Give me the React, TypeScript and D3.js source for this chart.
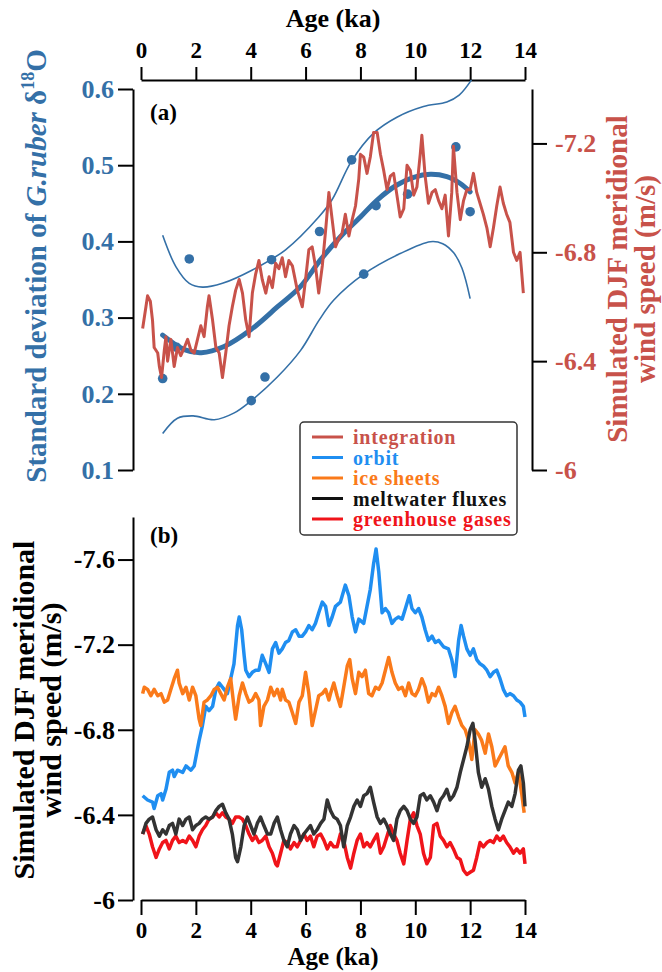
import { useEffect, useRef } from 'react';
import * as d3 from 'd3';

// Tick values
const ageTicks = [0, 2, 4, 6, 8, 10, 12, 14];
const stdTicks = [0.1, 0.2, 0.3, 0.4, 0.5, 0.6];
const windTicksA = [-6, -6.4, -6.8, -7.2];
const windTicksB = [-6, -6.4, -6.8, -7.2, -7.6];

// Panel (a): G.ruber std points [age, std]
const stdPoints: [number, number][] = [
  [0.79, 0.22], [1.3, 0.261], [1.76, 0.377], [4.02, 0.191], [4.52, 0.222], [4.76, 0.376],
  [6.51, 0.413], [7.68, 0.507], [8.12, 0.357], [8.57, 0.447], [9.72, 0.462], [11.48, 0.524], [12.0, 0.439],
];
// fitted curve and confidence bounds
const stdFit: [number, number][] = [
  [0.79, 0.277], [1.58, 0.258], [2.2, 0.254], [3.03, 0.262], [4.0, 0.284], [4.97, 0.314], [5.82, 0.341],
  [6.55, 0.376], [7.27, 0.406], [8.0, 0.432], [8.6, 0.454], [9.33, 0.474], [9.94, 0.484], [10.55, 0.488],
  [11.15, 0.485], [11.64, 0.476], [12.0, 0.465],
];
const stdUpper: [number, number][] = [
  [0.79, 0.408], [1.27, 0.367], [1.76, 0.345], [2.24, 0.34], [2.97, 0.345], [4.06, 0.3625], [5.27, 0.389],
  [6.48, 0.432], [6.97, 0.455], [7.67, 0.505], [8.48, 0.542], [9.33, 0.563], [10.3, 0.577], [11.15, 0.583],
  [11.6, 0.592], [12.05, 0.612],
];
const stdLower: [number, number][] = [
  [0.79, 0.148], [1.33, 0.168], [1.9, 0.171], [2.67, 0.166], [3.4, 0.175], [4.02, 0.191], [4.97, 0.222],
  [5.82, 0.257], [6.5, 0.297], [7.03, 0.323], [8.12, 0.357], [9.45, 0.384], [10.55, 0.3996], [11.0, 0.397],
  [11.4, 0.385], [11.7, 0.365], [12.0, 0.325],
];

// Panel (a): simulated integration wind speed [age, m/s]
const integration: [number, number][] = [
  [0.06, -6.52], [0.18, -6.6], [0.24, -6.64], [0.34, -6.62], [0.42, -6.55], [0.48, -6.45], [0.61, -6.43],
  [0.67, -6.38], [0.75, -6.34], [0.85, -6.44], [0.91, -6.49], [0.97, -6.4], [1.09, -6.48], [1.21, -6.38],
  [1.33, -6.45], [1.45, -6.42], [1.58, -6.45], [1.7, -6.48], [1.82, -6.44], [1.94, -6.43], [2.06, -6.48],
  [2.18, -6.53], [2.3, -6.49], [2.42, -6.6], [2.48, -6.64], [2.61, -6.55], [2.73, -6.45], [2.85, -6.43],
  [2.97, -6.34], [3.09, -6.43], [3.21, -6.53], [3.33, -6.6], [3.45, -6.66], [3.58, -6.7], [3.7, -6.65],
  [3.82, -6.55], [3.94, -6.49], [4.06, -6.65], [4.18, -6.72], [4.3, -6.77], [4.42, -6.7], [4.55, -6.65],
  [4.67, -6.71], [4.79, -6.67], [4.91, -6.76], [5.03, -6.74], [5.15, -6.78], [5.27, -6.71], [5.39, -6.77],
  [5.52, -6.75], [5.7, -6.66], [5.88, -6.6], [6.0, -6.7], [6.12, -6.81], [6.24, -6.82], [6.36, -6.75],
  [6.48, -6.65], [6.61, -6.75], [6.73, -6.88], [6.85, -7.02], [6.97, -6.92], [7.09, -6.82], [7.21, -6.85],
  [7.33, -6.87], [7.45, -6.94], [7.58, -6.86], [7.7, -6.92], [7.82, -6.97], [7.94, -7.07], [8.0, -7.16],
  [8.12, -7.15], [8.24, -7.09], [8.36, -7.15], [8.48, -7.24], [8.61, -7.24], [8.73, -7.16], [8.85, -7.1],
  [8.97, -7.03], [9.09, -7.08], [9.21, -7.09], [9.33, -7.01], [9.45, -6.93], [9.58, -6.96], [9.7, -7.12],
  [9.82, -7.1], [9.94, -7.01], [10.06, -7.04], [10.18, -7.16], [10.24, -7.23], [10.36, -7.08], [10.48, -6.98],
  [10.61, -7.02], [10.73, -7.03], [10.85, -6.99], [10.97, -6.96], [11.09, -7.01], [11.21, -6.86], [11.33, -7.02],
  [11.39, -7.19], [11.52, -7.02], [11.64, -6.92], [11.76, -6.99], [11.88, -7.03], [12.0, -7.03], [12.12, -7.09],
  [12.24, -7.02], [12.36, -6.98], [12.48, -6.94], [12.61, -6.89], [12.73, -6.82], [12.85, -6.89], [12.97, -6.97],
  [13.09, -7.04], [13.21, -6.98], [13.33, -6.94], [13.45, -6.91], [13.58, -6.8], [13.7, -6.77], [13.82, -6.8],
  [13.94, -6.65],
];

// Panel (b): single forcing experiments [age, m/s]
const orbit: [number, number][] = [
  [0.06, -6.49], [0.24, -6.47], [0.42, -6.46], [0.48, -6.43], [0.61, -6.49], [0.73, -6.5], [0.79, -6.47],
  [0.91, -6.52], [1.03, -6.6], [1.15, -6.61], [1.21, -6.58], [1.33, -6.61], [1.52, -6.6], [1.64, -6.63],
  [1.82, -6.61], [1.94, -6.63], [2.06, -6.71], [2.12, -6.75], [2.24, -6.82], [2.36, -6.91], [2.48, -6.89],
  [2.61, -6.91], [2.73, -6.99], [2.85, -7.02], [3.03, -6.99], [3.15, -6.97], [3.27, -7.04], [3.39, -7.11],
  [3.52, -7.29], [3.58, -7.33], [3.67, -7.27], [3.76, -7.15], [3.82, -7.08], [3.94, -7.05], [4.06, -7.07],
  [4.18, -7.08], [4.3, -7.08], [4.42, -7.15], [4.55, -7.11], [4.67, -7.07], [4.79, -7.18], [4.91, -7.21],
  [5.03, -7.16], [5.15, -7.18], [5.27, -7.21], [5.39, -7.22], [5.52, -7.26], [5.64, -7.27], [5.76, -7.24],
  [5.88, -7.24], [6.0, -7.26], [6.12, -7.29], [6.24, -7.27], [6.36, -7.3], [6.48, -7.35], [6.61, -7.4],
  [6.73, -7.38], [6.85, -7.29], [6.97, -7.33], [7.09, -7.38], [7.27, -7.4], [7.45, -7.48], [7.58, -7.43],
  [7.7, -7.33], [7.82, -7.26], [7.94, -7.32], [8.12, -7.3], [8.24, -7.38], [8.36, -7.46], [8.48, -7.58],
  [8.57, -7.65], [8.67, -7.54], [8.79, -7.35], [8.91, -7.37], [9.03, -7.35], [9.15, -7.3], [9.27, -7.32],
  [9.39, -7.33], [9.52, -7.32], [9.64, -7.37], [9.78, -7.43], [9.88, -7.37], [10.0, -7.35], [10.12, -7.37],
  [10.24, -7.33], [10.36, -7.27], [10.48, -7.22], [10.61, -7.24], [10.73, -7.21], [10.85, -7.22], [11.03, -7.19],
  [11.21, -7.18], [11.33, -7.13], [11.45, -7.05], [11.58, -7.22], [11.67, -7.29], [11.76, -7.24], [11.88, -7.18],
  [12.0, -7.15], [12.12, -7.18], [12.24, -7.13], [12.36, -7.11], [12.48, -7.1], [12.61, -7.08], [12.73, -7.05],
  [12.85, -7.07], [12.97, -7.08], [13.09, -7.04], [13.21, -6.99], [13.33, -6.96], [13.45, -6.97], [13.58, -6.96],
  [13.7, -6.94], [13.82, -6.93], [13.94, -6.91], [14.0, -6.86],
];
const iceSheets: [number, number][] = [
  [0.06, -6.97], [0.12, -7.0], [0.24, -6.99], [0.36, -6.96], [0.48, -6.99], [0.61, -6.96], [0.73, -6.97],
  [0.85, -6.93], [0.97, -6.94], [1.09, -6.99], [1.21, -7.04], [1.33, -7.08], [1.39, -7.02], [1.52, -6.97],
  [1.64, -7.0], [1.76, -6.94], [1.88, -7.0], [2.0, -6.96], [2.12, -6.85], [2.18, -6.82], [2.3, -6.93],
  [2.42, -6.94], [2.55, -6.96], [2.67, -6.99], [2.79, -7.0], [2.91, -6.97], [3.03, -6.94], [3.15, -7.0],
  [3.27, -7.04], [3.39, -6.91], [3.45, -6.85], [3.58, -6.96], [3.7, -7.02], [3.82, -6.97], [3.94, -6.93],
  [4.06, -6.94], [4.18, -6.97], [4.3, -6.94], [4.36, -6.82], [4.48, -6.91], [4.61, -6.94], [4.73, -7.0],
  [4.85, -6.96], [4.97, -6.99], [5.09, -6.94], [5.15, -6.99], [5.27, -6.94], [5.39, -6.93], [5.52, -6.88],
  [5.64, -6.83], [5.76, -6.93], [5.88, -6.96], [6.0, -7.07], [6.12, -6.97], [6.24, -6.82], [6.36, -6.89],
  [6.48, -6.96], [6.61, -6.97], [6.73, -6.99], [6.85, -6.94], [6.91, -6.97], [7.03, -7.02], [7.15, -6.96],
  [7.27, -6.91], [7.39, -7.0], [7.52, -7.1], [7.61, -7.13], [7.7, -7.04], [7.82, -6.97], [7.94, -7.07],
  [8.06, -7.05], [8.18, -7.08], [8.3, -6.97], [8.42, -6.96], [8.55, -7.0], [8.67, -6.99], [8.79, -7.02],
  [8.91, -7.08], [9.03, -7.14], [9.15, -7.07], [9.27, -7.02], [9.39, -6.99], [9.52, -7.0], [9.64, -6.96],
  [9.76, -7.02], [9.88, -6.97], [10.0, -6.96], [10.12, -6.99], [10.24, -7.04], [10.36, -7.0], [10.48, -6.93],
  [10.61, -6.97], [10.73, -6.96], [10.85, -7.0], [10.97, -6.96], [11.09, -6.91], [11.21, -6.83], [11.33, -6.88],
  [11.45, -6.91], [11.58, -6.86], [11.7, -6.82], [11.82, -6.8], [11.94, -6.75], [12.06, -6.66], [12.18, -6.8],
  [12.3, -6.78], [12.42, -6.75], [12.55, -6.69], [12.67, -6.78], [12.79, -6.72], [12.91, -6.63], [13.03, -6.66],
  [13.15, -6.69], [13.27, -6.72], [13.39, -6.63], [13.52, -6.6], [13.64, -6.55], [13.76, -6.6], [13.88, -6.5],
  [13.97, -6.41],
];
const meltwater: [number, number][] = [
  [0.06, -6.31], [0.18, -6.36], [0.3, -6.38], [0.42, -6.39], [0.55, -6.33], [0.67, -6.3], [0.79, -6.33],
  [0.91, -6.31], [1.03, -6.35], [1.15, -6.36], [1.27, -6.31], [1.39, -6.38], [1.52, -6.35], [1.64, -6.38],
  [1.76, -6.39], [1.88, -6.33], [2.0, -6.35], [2.12, -6.36], [2.24, -6.38], [2.36, -6.39], [2.48, -6.38],
  [2.61, -6.39], [2.73, -6.42], [2.85, -6.44], [2.97, -6.45], [3.09, -6.41], [3.21, -6.38], [3.33, -6.31],
  [3.45, -6.2], [3.52, -6.18], [3.64, -6.25], [3.76, -6.35], [3.88, -6.39], [4.0, -6.35], [4.12, -6.31],
  [4.24, -6.36], [4.36, -6.39], [4.48, -6.35], [4.61, -6.31], [4.73, -6.31], [4.85, -6.36], [4.97, -6.39],
  [5.09, -6.33], [5.21, -6.28], [5.33, -6.25], [5.45, -6.31], [5.58, -6.35], [5.7, -6.33], [5.82, -6.28],
  [5.94, -6.31], [6.06, -6.33], [6.18, -6.35], [6.3, -6.31], [6.42, -6.33], [6.55, -6.36], [6.67, -6.38],
  [6.79, -6.47], [6.91, -6.42], [7.03, -6.39], [7.15, -6.38], [7.27, -6.35], [7.39, -6.25], [7.52, -6.35],
  [7.64, -6.39], [7.76, -6.44], [7.88, -6.47], [8.0, -6.44], [8.12, -6.49], [8.24, -6.5], [8.36, -6.53],
  [8.48, -6.46], [8.61, -6.39], [8.73, -6.36], [8.85, -6.38], [8.97, -6.35], [9.09, -6.31], [9.21, -6.28],
  [9.33, -6.38], [9.45, -6.42], [9.58, -6.44], [9.7, -6.42], [9.82, -6.38], [9.94, -6.36], [10.06, -6.39],
  [10.18, -6.49], [10.3, -6.5], [10.42, -6.47], [10.55, -6.49], [10.67, -6.46], [10.79, -6.42], [10.91, -6.47],
  [11.03, -6.49], [11.15, -6.52], [11.27, -6.47], [11.39, -6.49], [11.52, -6.53], [11.64, -6.6], [11.76, -6.66],
  [11.88, -6.72], [12.0, -6.8], [12.1, -6.83], [12.18, -6.75], [12.3, -6.6], [12.42, -6.53], [12.55, -6.57],
  [12.67, -6.52], [12.79, -6.44], [12.91, -6.38], [13.03, -6.33], [13.15, -6.38], [13.27, -6.42], [13.39, -6.46],
  [13.52, -6.44], [13.64, -6.5], [13.76, -6.61], [13.85, -6.63], [13.94, -6.55], [14.0, -6.44],
];
const greenhouse: [number, number][] = [
  [0.06, -6.31], [0.18, -6.35], [0.3, -6.31], [0.42, -6.25], [0.55, -6.2], [0.67, -6.24], [0.79, -6.27],
  [0.91, -6.28], [1.03, -6.24], [1.15, -6.28], [1.27, -6.3], [1.39, -6.27], [1.52, -6.28], [1.64, -6.27],
  [1.76, -6.3], [1.88, -6.28], [2.0, -6.25], [2.12, -6.3], [2.24, -6.33], [2.36, -6.35], [2.48, -6.38],
  [2.61, -6.39], [2.73, -6.41], [2.85, -6.39], [2.97, -6.41], [3.09, -6.39], [3.21, -6.38], [3.33, -6.36],
  [3.45, -6.39], [3.58, -6.39], [3.7, -6.38], [3.82, -6.35], [3.94, -6.31], [4.06, -6.28], [4.18, -6.3],
  [4.3, -6.27], [4.42, -6.28], [4.55, -6.3], [4.67, -6.25], [4.79, -6.22], [4.91, -6.17], [4.97, -6.16],
  [5.09, -6.22], [5.21, -6.28], [5.33, -6.27], [5.45, -6.24], [5.58, -6.27], [5.7, -6.25], [5.82, -6.28],
  [5.94, -6.31], [6.06, -6.28], [6.18, -6.3], [6.3, -6.25], [6.42, -6.3], [6.55, -6.31], [6.67, -6.28],
  [6.79, -6.24], [6.91, -6.27], [7.03, -6.25], [7.15, -6.25], [7.27, -6.31], [7.39, -6.28], [7.52, -6.2],
  [7.64, -6.15], [7.76, -6.22], [7.88, -6.28], [8.0, -6.31], [8.12, -6.25], [8.24, -6.27], [8.36, -6.25],
  [8.48, -6.28], [8.61, -6.31], [8.73, -6.22], [8.85, -6.25], [8.97, -6.3], [9.09, -6.35], [9.21, -6.31],
  [9.33, -6.28], [9.45, -6.22], [9.58, -6.17], [9.7, -6.28], [9.82, -6.38], [9.94, -6.41], [10.06, -6.35],
  [10.18, -6.31], [10.3, -6.22], [10.42, -6.17], [10.55, -6.2], [10.67, -6.35], [10.79, -6.36], [10.91, -6.3],
  [11.03, -6.28], [11.15, -6.25], [11.27, -6.27], [11.39, -6.24], [11.52, -6.2], [11.64, -6.19], [11.76, -6.14],
  [11.88, -6.12], [12.0, -6.13], [12.12, -6.14], [12.24, -6.2], [12.36, -6.27], [12.48, -6.25], [12.61, -6.27],
  [12.73, -6.28], [12.85, -6.27], [12.97, -6.3], [13.09, -6.28], [13.21, -6.3], [13.33, -6.27], [13.45, -6.25],
  [13.58, -6.22], [13.7, -6.24], [13.82, -6.22], [13.94, -6.24], [14.0, -6.17],
];

const legendNames = ['integration', 'orbit', 'ice sheets', 'meltwater fluxes', 'greenhouse gases'];
const legendLineColors = ['#c8524a', '#1f8ef1', '#fa7a1a', '#111111', '#f0141a'];
const legendTextColors = ['#c8524a', '#1f8ef1', '#fa7a1a', '#111111', '#f0141a'];

const FONT = '"Liberation Serif", "Times New Roman", serif';
const BLUE = '#3470a7';
const RED = '#c8524a';

export default function App() {
  const ref = useRef<SVGSVGElement>(null);

  useEffect(() => {
    if (!ref.current) return;
    document.body.style.margin = '0';
    const svg = d3.select(ref.current);
    svg.selectAll('*').remove();

    const x = d3.scaleLinear().domain([0, 14]).range([141, 525]);
    const yStd = d3.scaleLinear().domain([0.1, 0.6]).range([470, 89]);
    const yWindA = d3.scaleLinear().domain([-6, -7.4]).range([470, 89]);
    const yWindB = d3.scaleLinear().domain([-6, -7.8]).range([900, 517]);

    // axis helper: major ticks with labels + minor ticks
    const addAxis = (
      axisFn: any, scale: any, tx: number, ty: number, major: number[], minor: number[],
      majorLen: number, minorLen: number, pad: number, color: string, size: number,
    ) => {
      const g = svg.append('g').attr('transform', `translate(${tx},${ty})`);
      g.call(axisFn(scale).tickValues(minor).tickSize(minorLen).tickSizeOuter(0).tickFormat(() => ''));
      g.call(
        axisFn(scale).tickValues(major).tickSize(majorLen).tickSizeOuter(0).tickPadding(pad)
          .tickFormat((d: number) => String(d)),
      );
      g.attr('font-family', FONT).attr('font-size', size).attr('font-weight', 'bold');
      g.selectAll('.domain').attr('stroke', '#000').attr('stroke-width', 2);
      g.selectAll('.tick line').attr('stroke', '#000').attr('stroke-width', 2);
      g.selectAll('.tick text').attr('fill', color);
    };

    const ageMinor = d3.range(0, 14.001, 0.5);
    addAxis(d3.axisTop, x, 0, 80, ageTicks, ageMinor, 13, 7, 9, '#000', 23);
    addAxis(d3.axisLeft, yStd, 133, 0, stdTicks, d3.range(0.1, 0.6001, 0.025), 15, 7, 4, BLUE, 26);
    addAxis(d3.axisRight, yWindA, 532, 0, windTicksA, d3.range(-7.4, -5.999, 0.1), 15, 8, 8, RED, 26);
    addAxis(d3.axisBottom, x, 0, 900, ageTicks, ageMinor, 15, 7, 7, '#000', 23);
    addAxis(d3.axisLeft, yWindB, 133, 0, windTicksB, d3.range(-7.8, -5.999, 0.1), 15, 8, 3, '#000', 26);

    const txt = (s: any) => s.attr('font-family', FONT).attr('font-weight', 'bold');

    // axis titles
    txt(svg.append('text')).attr('x', 333).attr('y', 27).attr('text-anchor', 'middle')
      .attr('font-size', 26).text('Age (ka)');
    txt(svg.append('text')).attr('x', 333).attr('y', 965).attr('text-anchor', 'middle')
      .attr('font-size', 25).text('Age (ka)');

    const lt = txt(svg.append('text')).attr('transform', 'translate(46,266) rotate(-90)')
      .attr('text-anchor', 'middle').attr('font-size', 29).attr('fill', BLUE);
    lt.append('tspan').text('Standard deviation of ');
    lt.append('tspan').attr('font-style', 'italic').text('G.ruber');
    lt.append('tspan').text(' δ');
    lt.append('tspan').attr('font-size', 18).attr('dy', -12).text('18');
    lt.append('tspan').attr('dy', 12).text('O');

    const rt = [['Simulated DJF meridional', 627], ['wind speed (m/s)', 655]] as const;
    rt.forEach(([s, bx]) => {
      txt(svg.append('text')).attr('transform', `translate(${bx},279) rotate(-90)`)
        .attr('text-anchor', 'middle').attr('font-size', 29).attr('fill', RED).text(s);
    });
    const bt = [['Simulated DJF meridional', 34], ['wind speed (m/s)', 61]] as const;
    bt.forEach(([s, bx]) => {
      txt(svg.append('text')).attr('transform', `translate(${bx},710) rotate(-90)`)
        .attr('text-anchor', 'middle').attr('font-size', 30).attr('fill', '#000').text(s);
    });

    txt(svg.append('text')).attr('x', 150).attr('y', 120).attr('font-size', 23).text('(a)');
    txt(svg.append('text')).attr('x', 150).attr('y', 543).attr('font-size', 23).text('(b)');

    // panel (a) fits
    const smooth = d3.line<[number, number]>().x(d => x(d[0])).y(d => yStd(d[1])).curve(d3.curveCatmullRom);
    [stdUpper, stdLower].forEach(s => {
      svg.append('path').attr('d', smooth(s)).attr('fill', 'none').attr('stroke', BLUE).attr('stroke-width', 1.6);
    });
    svg.append('path').attr('d', smooth(stdFit)).attr('fill', 'none').attr('stroke', BLUE)
      .attr('stroke-width', 5).attr('stroke-linecap', 'round');
    svg.selectAll('.pt').data(stdPoints).enter().append('circle')
      .attr('cx', d => x(d[0])).attr('cy', d => yStd(d[1])).attr('r', 4.8).attr('fill', BLUE);

    const lineA = d3.line<[number, number]>().x(d => x(d[0])).y(d => yWindA(d[1]));
    svg.append('path').attr('d', lineA(integration)).attr('fill', 'none').attr('stroke', RED)
      .attr('stroke-width', 3).attr('stroke-linejoin', 'round');

    // panel (b)
    const lineB = d3.line<[number, number]>().x(d => x(d[0])).y(d => yWindB(d[1]));
    const seriesB: [[number, number][], string][] = [
      [orbit, '#1f8ef1'], [iceSheets, '#fa7a1a'], [greenhouse, '#f0141a'], [meltwater, '#333333'],
    ];
    seriesB.forEach(([s, c]) => {
      svg.append('path').attr('d', lineB(s)).attr('fill', 'none').attr('stroke', c)
        .attr('stroke-width', 3.5).attr('stroke-linejoin', 'round');
    });

    // legend
    const lg = svg.append('g');
    lg.append('rect').attr('x', 300).attr('y', 422).attr('width', 217).attr('height', 113).attr('rx', 4)
      .attr('fill', '#fff').attr('stroke', '#333').attr('stroke-width', 1.5);
    legendNames.forEach((name, i) => {
      const cy = 437 + i * 20.5;
      lg.append('line').attr('x1', 312).attr('x2', 343).attr('y1', cy).attr('y2', cy)
        .attr('stroke', legendLineColors[i]).attr('stroke-width', 3);
      txt(lg.append('text')).attr('x', 353).attr('y', cy + 7).attr('font-size', 20)
        .attr('letter-spacing', 0.8).attr('fill', legendTextColors[i]).text(name);
    });
  }, []);

  return <svg ref={ref} width={662} height={972} style={{ display: 'block', background: '#fff' }} />;
}
